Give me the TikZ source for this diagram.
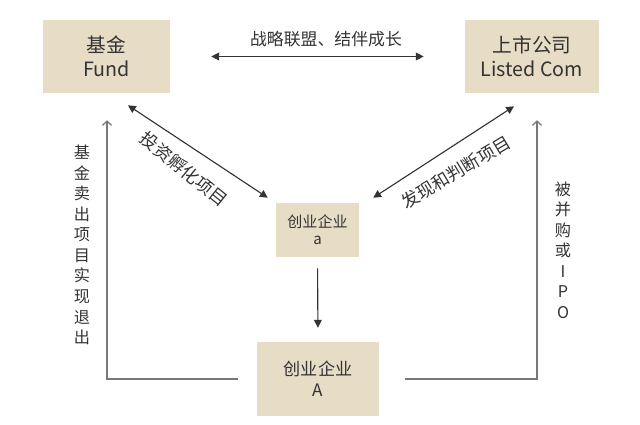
\documentclass[tikz,border=0pt]{standalone}
\usepackage{fontspec}
\setmainfont{Noto Sans CJK SC}
\usetikzlibrary{calc,arrows.meta}
\definecolor{boxtan}{RGB}{231,220,198}
\definecolor{ink}{RGB}{51,51,51}
\definecolor{exitgray}{RGB}{120,120,120}

\begin{document}
\begin{tikzpicture}[x=0.025cm,y=-0.025cm,
  box/.style={fill=boxtan,text=ink,align=center,inner sep=0pt},
  twoway/.style={draw=ink,line width=0.8pt,{Triangle[length=5.5pt,width=5.5pt]}-{Triangle[length=5.5pt,width=5.5pt]}},
  oneway/.style={draw=ink,line width=0.8pt,-{Triangle[length=5.5pt,width=5.5pt]}},
  exit/.style={draw=exitgray,line width=0.9pt,-{Straight Barb[length=3pt,width=6.5pt]}},
  lbl/.style={text=ink,font=\fontsize{12}{14}\selectfont},
  vlbl/.style={text=ink,align=center,font=\fontsize{11.5}{14.6}\selectfont}]
  \useasboundingbox (0,0) rectangle (640,425);
  \node[box,minimum width=3.175cm,minimum height=1.825cm,font=\fontsize{14}{17}\selectfont] (fund) at (106.5,56.5) {基金\\Fund};
  \node[box,minimum width=3.35cm,minimum height=1.825cm,font=\fontsize{14}{17}\selectfont] (listed) at (532,56.5) {上市公司\\Listed Com};
  \node[box,minimum width=2.075cm,minimum height=1.35cm,font=\fontsize{10.7}{12}\selectfont] (sa) at (317.5,230) {创业企业\\a};
  \node[box,minimum width=3.05cm,minimum height=1.85cm,font=\fontsize{12.2}{15}\selectfont] (bigA) at (318,379) {创业企业\\A};

  \draw[twoway,shorten <=1.025cm,shorten >=1.025cm] (fund.east) -- (listed.west);
  \node[lbl] (alliance) at (326,39) {战略联盟、结伴成长};

  \draw[twoway] ($(fund.south)+(21.5,12)$) -- ($(sa.north west)+(-8,-5)$);
  \draw[twoway] ($(listed.south)+(-18,13)$) -- ($(sa.north east)+(14,-5)$);
  \node[lbl,font=\fontsize{12.5}{14}\selectfont,rotate=-39] (invest) at (184,169) {投资孵化项目};
  \node[lbl,font=\fontsize{12.5}{14}\selectfont,rotate=31] (discover) at (456,172) {发现和判断项目};

  \draw[oneway,shorten <=0.275cm,shorten >=0.35cm] (sa.south) -- (bigA.north);

  \draw[exit] ($(bigA.west)+(-19,0)$) -| ($(fund.south)+(0.5,27)$);
  \draw[exit] ($(bigA.east)+(26,0)$) -| ($(listed.south)+(5,27)$);
  \node[vlbl] (sellout) at (82,245) {基\\金\\卖\\出\\项\\目\\实\\现\\退\\出};
  \node[vlbl] (merger) at (563,250) {被\\并\\购\\或\\I\\P\\O};
\end{tikzpicture}
\end{document}
